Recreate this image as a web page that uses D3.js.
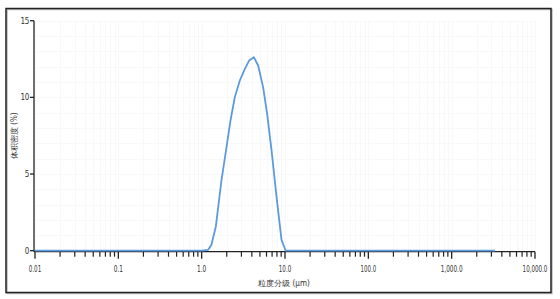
<!DOCTYPE html>
<html>
<head>
<meta charset="utf-8">
<script src="https://cdn.jsdelivr.net/npm/d3@7"></script>
<style>
  body { margin: 0; background: #fff; }
  svg text { font-family: "Liberation Sans Narrow", "DejaVu Sans Condensed", "Liberation Sans", sans-serif; fill: #333; }
</style>
</head>
<body>
<svg id="chart" width="560" height="299"></svg>
<script>
  // particle size (um) and volume density (%)
  var sizes = [0.01, 0.1, 1.0, 1.197, 1.31, 1.48, 1.73, 1.99, 2.22, 2.50, 2.87, 3.30, 3.71, 4.23, 4.76, 5.46, 6.10, 6.89, 7.91, 9.08, 10.2, 100, 1000, 3300];
  var density = [0, 0, 0, 0.06, 0.39, 1.58, 4.61, 6.77, 8.51, 10.02, 11.1, 11.86, 12.4, 12.62, 12.08, 10.67, 8.94, 6.56, 3.53, 0.71, 0, 0, 0, 0];

  var xTicks = [0.01, 0.1, 1, 10, 100, 1000, 10000];
  var xTickLabels = ['0.01', '0.1', '1.0', '10.0', '100.0', '1,000.0', '10,000.0'];
  var yTicks = [0, 5, 10, 15];

  (function() {
    var svg = d3.select('#chart');
    var pLeft = 35, pRight = 535, pTop = 20.7, pBottom = 250.7;

    var x = d3.scaleLog().domain([0.01, 10000]).range([pLeft, pRight]);
    var y = d3.scaleLinear().domain([0, 15]).range([pBottom, pTop]);

    // frame
    svg.append('rect').attr('x', 7).attr('y', 9.5).attr('width', 545).attr('height', 284)
      .attr('fill', 'none').attr('stroke', '#bbb').attr('stroke-width', 1.5);
    svg.append('rect').attr('x', 6).attr('y', 8.5).attr('width', 545).attr('height', 284)
      .attr('fill', 'none').attr('stroke', '#222').attr('stroke-width', 1.5);

    // minor ticks for log axis
    var minor = [];
    for (var e = -2; e < 4; e++) {
      for (var m = 2; m <= 9; m++) minor.push(m * Math.pow(10, e));
    }

    // faint grid
    var grid = svg.append('g').attr('stroke', '#f8f8f8').attr('stroke-width', 1);
    grid.selectAll('line.v').data(xTicks.concat(minor)).enter().append('line')
      .attr('x1', function(d) { return Math.round(x(d)) + 0.5; })
      .attr('x2', function(d) { return Math.round(x(d)) + 0.5; })
      .attr('y1', pTop).attr('y2', pBottom);
    grid.selectAll('line.h').data(d3.range(1, 16)).enter().append('line')
      .attr('x1', pLeft).attr('x2', pRight)
      .attr('y1', function(d) { return Math.round(y(d)) + 0.5; })
      .attr('y2', function(d) { return Math.round(y(d)) + 0.5; });

    // x axis
    var xg = svg.append('g').attr('transform', 'translate(0,' + (pBottom + 1) + ')');
    xg.append('line').attr('x1', pLeft - 1).attr('x2', pRight).attr('y1', 0).attr('y2', 0)
      .attr('stroke', '#222').attr('stroke-width', 1.3);
    xg.selectAll('line.maj').data(xTicks).enter().append('line')
      .attr('x1', function(d) { return x(d); }).attr('x2', function(d) { return x(d); })
      .attr('y1', 0).attr('y2', 7).attr('stroke', '#222').attr('stroke-width', 1.3);
    xg.selectAll('line.min').data(minor).enter().append('line')
      .attr('x1', function(d) { return x(d); }).attr('x2', function(d) { return x(d); })
      .attr('y1', 0).attr('y2', 5).attr('stroke', '#222').attr('stroke-width', 1.2);
    xg.selectAll('text').data(xTicks).enter().append('text')
      .attr('x', function(d) { return x(d); }).attr('y', 20)
      .attr('text-anchor', 'middle').attr('font-size', 8)
      .attr('textLength', function(d, i) { return xTickLabels[i].length * 3.1; })
      .attr('lengthAdjust', 'spacingAndGlyphs')
      .text(function(d, i) { return xTickLabels[i]; });

    // y axis
    var yg = svg.append('g');
    yg.append('line').attr('x1', pLeft - 1).attr('x2', pLeft - 1).attr('y1', pTop).attr('y2', pBottom + 1)
      .attr('stroke', '#222').attr('stroke-width', 1.3);
    yg.selectAll('line.t').data(yTicks).enter().append('line')
      .attr('x1', pLeft - 5).attr('x2', pLeft - 1)
      .attr('y1', function(d) { return y(d); }).attr('y2', function(d) { return y(d); })
      .attr('stroke', '#222').attr('stroke-width', 1.3);
    yg.selectAll('text').data(yTicks).enter().append('text')
      .attr('x', pLeft - 6).attr('y', function(d) { return y(d) + 3; })
      .attr('text-anchor', 'end').attr('font-size', 8).attr('letter-spacing', -0.3)
      .text(function(d) { return d; });

    // axis titles
    svg.append('text').attr('x', 284).attr('y', 286).attr('text-anchor', 'middle')
      .attr('font-size', 8).text('粒度分级 (μm)');
    svg.append('text').attr('transform', 'translate(17,' + ((pTop + pBottom) / 2) + ') rotate(-90)')
      .attr('text-anchor', 'middle').attr('font-size', 8).text('体积密度 (%)');

    // curve
    var pts = sizes.map(function(s, i) { return [s, density[i]]; });
    var line = d3.line().x(function(d) { return x(d[0]); }).y(function(d) { return y(d[1]); });
    svg.append('path').datum(pts).attr('d', line)
      .attr('fill', 'none').attr('stroke', '#5b9ae0').attr('stroke-width', 1.8)
      .attr('stroke-linejoin', 'round');
  })();
</script>
</body>
</html>
